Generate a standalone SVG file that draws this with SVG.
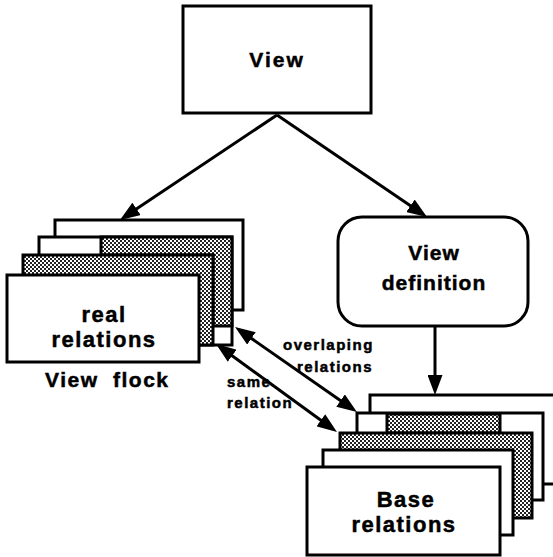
<svg xmlns="http://www.w3.org/2000/svg" width="553" height="557" viewBox="0 0 553 557">
<style>
.box{fill:#fff;stroke:#000;stroke-width:3}
.hat{fill:url(#dots);stroke:#000;stroke-width:3}
.edge{fill:none;stroke:#000;stroke-width:3}
.t{font-family:"Liberation Sans",Arial,sans-serif;font-weight:bold;fill:#000;stroke:#000;stroke-width:0.5;text-anchor:middle}
.big{font-size:21px;letter-spacing:1.5px}
.sm{font-size:15px;letter-spacing:1.5px}
</style>
<defs>
<pattern id="dots" width="4" height="4" patternUnits="userSpaceOnUse">
<rect width="4" height="4" fill="#fff"/>
<rect width="2" height="2" fill="#222"/>
<rect x="2" y="2" width="2" height="2" fill="#222"/>
</pattern>
<marker id="ah" markerWidth="20" markerHeight="15" refX="12" refY="7.5" orient="auto-start-reverse" markerUnits="userSpaceOnUse">
<path d="M0,0 L20,7.5 L0,15 z" fill="#000"/>
</marker>
</defs>
<rect width="553" height="557" fill="#fff"/>

<g id="view">
<rect class="box" x="183" y="6" width="188" height="107"/>
<text class="t big" x="277" y="67" style="letter-spacing:2px">View</text>
</g>

<g id="view-definition">
<rect class="box" x="338" y="217" width="190" height="109" rx="24" ry="24"/>
<text class="t big" x="434" y="260" style="letter-spacing:1px">View</text>
<text class="t big" x="434" y="290" style="letter-spacing:1px">definition</text>
</g>

<g id="view-flock">
<rect class="box" x="55" y="220" width="188" height="90"/>
<rect class="box" x="39" y="237" width="193" height="108"/>
<polygon class="hat" points="101,237 232,237 232,326 213,326 213,255 101,255"/>
<rect class="hat" x="23" y="255" width="190" height="90"/>
<rect class="box" x="7" y="275" width="192" height="87"/>
<text class="t big" x="104" y="322" style="font-size:22px">real</text>
<text class="t big" x="104" y="347" style="font-size:22px">relations</text>
<text class="t big" x="45" y="387" style="text-anchor:start">View</text>
<text class="t big" x="113" y="387" style="text-anchor:start">flock</text>
</g>

<g id="base-relations">
<rect class="box" x="370" y="395" width="210" height="89"/>
<rect class="box" x="357" y="413" width="186" height="87"/>
<rect class="hat" x="387" y="414" width="113" height="19"/>
<rect class="hat" x="340" y="433" width="192" height="85"/>
<rect class="box" x="323" y="450" width="190" height="85"/>
<rect class="box" x="307" y="467" width="193" height="88"/>
<text class="t big" x="406" y="507" style="font-size:22px">Base</text>
<text class="t big" x="404" y="532" style="font-size:22px">relations</text>
</g>

<g id="connectors">
<line class="edge" x1="277" y1="115" x2="126.6" y2="215.6" marker-end="url(#ah)"/>
<line class="edge" x1="277" y1="115" x2="420.4" y2="212.5" marker-end="url(#ah)"/>
<line class="edge" x1="435" y1="326" x2="435" y2="387" marker-end="url(#ah)"/>
<line class="edge" x1="241.6" y1="331.6" x2="350.4" y2="407.4" marker-start="url(#ah)" marker-end="url(#ah)"/>
<line class="edge" x1="222.5" y1="348.7" x2="330.5" y2="427.3" marker-start="url(#ah)" marker-end="url(#ah)"/>
<text class="t sm" x="283" y="350" style="text-anchor:start">overlaping</text>
<text class="t sm" x="297" y="372" style="text-anchor:start">relations</text>
<text class="t sm" x="227" y="387" style="text-anchor:start">same</text>
<text class="t sm" x="227" y="408" style="text-anchor:start">relation</text>
</g>
</svg>
